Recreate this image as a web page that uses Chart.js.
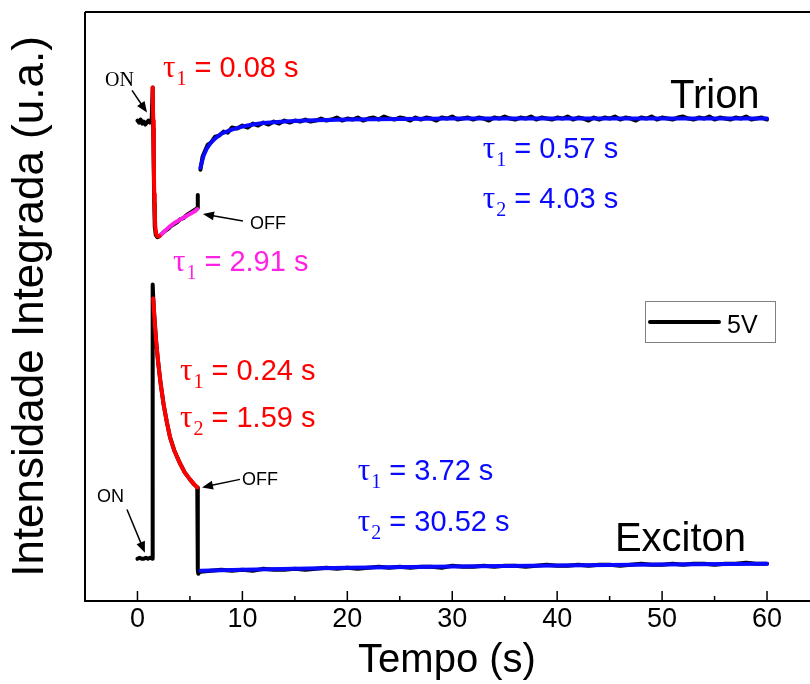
<!DOCTYPE html>
<html>
<head>
<meta charset="utf-8">
<title>Intensidade Integrada - 5V</title>
<script src="https://cdn.jsdelivr.net/npm/chart.js@4.4.1/dist/chart.umd.min.js"></script>
<style>
  html, body { margin: 0; padding: 0; background: #fff; }
  #wrap { width: 810px; height: 684px; }
</style>
</head>
<body>
<div id="wrap"><canvas id="chart" width="810" height="684"></canvas></div>
<script>
// ---- data (arbitrary units) ----
const xTicks = [0, 10, 20, 30, 40, 50, 60];

// Trion, measured (black)
const trionX = [0, 0.15, 0.3, 0.45, 0.6, 0.75, 0.9, 1.05, 1.2, 1.35, 1.45, 1.5, 1.55, 1.6, 1.65, 1.75, 1.9, 2.1, 2.3, 2.6, 2.9, 3.2, 3.5, 3.8, 4.1, 4.4, 4.7, 5.0, 5.3, 5.6, 5.7, 5.75, 5.85,
  6.0, 6.2, 6.4, 6.7, 7.0, 7.4, 7.8, 8.2, 8.6, 9.0, 9.5,
  10, 10.5, 11, 11.5, 12, 12.5, 13, 13.5, 14, 14.5, 15, 15.5, 16, 16.5, 17, 17.5, 18, 18.5, 19, 19.5,
  20, 20.5, 21, 21.5, 22, 22.5, 23, 23.5, 24, 24.5, 25, 25.5, 26, 26.5, 27, 27.5, 28, 28.5, 29, 29.5,
  30, 30.5, 31, 31.5, 32, 32.5, 33, 33.5, 34, 34.5, 35, 35.5, 36, 36.5, 37, 37.5, 38, 38.5, 39, 39.5,
  40, 40.5, 41, 41.5, 42, 42.5, 43, 43.5, 44, 44.5, 45, 45.5, 46, 46.5, 47, 47.5, 48, 48.5, 49, 49.5,
  50, 50.5, 51, 51.5, 52, 52.5, 53, 53.5, 54, 54.5, 55, 55.5, 56, 56.5, 57, 57.5, 58, 58.5, 59, 59.5, 60];
const trionY = [478, 476, 479, 475, 477, 474, 476, 478, 476, 477, 511, 470, 430, 395, 372, 364, 362, 363, 365, 368, 370, 373, 375, 377, 380, 381, 384, 386, 388, 390, 391, 404, null,
  429, 442, 447, 454, 456, 462, 463, 467, 466, 471, 470,
  473, 471, 475, 473, 476, 474, 477, 475, 478, 476, 478, 477, 479, 477, 478, 480, 478, 479, 481, 478,
  480, 479, 481, 478, 480, 481, 479, 482, 480, 479, 481, 480, 478, 481, 479, 481, 480, 478, 481, 480,
  482, 479, 480, 481, 479, 481, 480, 478, 481, 480, 482, 480, 479, 481, 480, 482, 479, 481, 480, 479,
  481, 480, 482, 479, 481, 480, 478, 481, 479, 481, 480, 482, 479, 481, 480, 478, 481, 480, 482, 479,
  481, 480, 479, 481, 482, 480, 479, 481, 480, 482, 479, 481, 480, 479, 481, 480, 482, 479, 480, 481, 479];

// Trion fits
const trionFit1X = [1.45, 1.5, 1.55, 1.6, 1.65, 1.7, 1.8, 1.9, 2.1];
const trionFit1Y = [511, 478, 440, 405, 385, 372, 365, 363, 363];
const trionFit2X = [2.2, 2.6, 3.0, 3.5, 4.0, 4.5, 5.0, 5.5, 5.7];
const trionFit2Y = [364, 368, 372, 376, 379, 382, 385, 388, 390];
const trionFit3X = [6.0, 6.3, 6.6, 7.0, 7.5, 8, 9, 10, 11, 12, 14, 16, 18, 20, 25, 30, 40, 50, 60];
const trionFit3Y = [431, 443, 450, 456, 461, 465, 469, 472, 474, 475.5, 477, 478, 478.5, 479, 479.5, 480, 480, 480, 480];

// Exciton, measured (black)
const excitonX = [0, 0.2, 0.4, 0.6, 0.8, 1.0, 1.2, 1.42, 1.45, 1.5, 1.6, 1.7, 1.8, 1.9, 2.0, 2.2, 2.5, 2.8, 3.1, 3.5, 4.0, 4.5, 5.0, 5.4, 5.7, 5.75, 5.8, 5.9,
  6, 7, 8, 9, 10, 11, 12, 13, 14, 15, 16, 17, 18, 19, 20, 21, 22, 23, 24, 25, 26, 27, 28, 29, 30,
  31, 32, 33, 34, 35, 36, 37, 38, 39, 40, 41, 42, 43, 44, 45, 46, 47, 48, 49, 50,
  51, 52, 53, 54, 55, 56, 57, 58, 59, 60];
const excitonY = [42, 43, 42, 42, 43, 42, 43, 42, 315, 302, 285, 270, 256, 245, 235, 217, 195, 178, 163, 150, 138, 128, 121, 116, 113, 31, 27, 29,
  29, 30, 31, 30, 31, 30, 32, 31, 31, 32, 31, 32, 33, 32, 33, 32, 33, 34, 33, 34, 33, 34, 34, 33, 35,
  34, 34, 35, 34, 35, 35, 34, 35, 36, 35, 35, 36, 35, 36, 36, 35, 36, 37, 36, 36,
  37, 36, 37, 37, 36, 37, 37, 38, 37, 37];

// Exciton fits
const excitonFit1X = [1.5, 1.6, 1.7, 1.8, 1.9, 2.0, 2.2, 2.5, 2.8, 3.1, 3.5, 4.0, 4.5, 5.0, 5.4, 5.7];
const excitonFit1Y = [301, 284, 269, 256, 245, 235, 217, 195, 178, 163, 150, 138, 128, 121, 116, 113];
const excitonFit2X = [6, 8, 10, 15, 20, 30, 40, 50, 60];
const excitonFit2Y = [30, 30.5, 31, 32, 33, 34.3, 35.4, 36.3, 37];

const pts = (xs, ys) => xs.map((x, i) => ({ x: x, y: ys[i] }));

const RED = '#ff0000';
const BLUE = '#0a0aff';
const MAGENTA = '#ff22e6';
const SANS = '"Liberation Sans", Arial, sans-serif';
const SERIF = '"Liberation Serif", "Times New Roman", serif';

function line(data, color, order, label) {
    return {
        label: label,
        data: data,
        borderColor: color,
        backgroundColor: color,
        borderWidth: 4,
        pointRadius: 0,
        tension: 0,
        fill: false,
        spanGaps: false,
        order: order,
        borderJoinStyle: 'round',
        borderCapStyle: 'round'
    };
}

// text and arrows placed in data coordinates
const notes = {
    taus: [
        { x: 2.43, y: 521, sub: '1', text: ' = 0.08 s', color: RED },
        { x: 32.9, y: 441, sub: '1', text: ' = 0.57 s', color: BLUE },
        { x: 32.9, y: 391, sub: '2', text: ' = 4.03 s', color: BLUE },
        { x: 3.38, y: 328, sub: '1', text: ' = 2.91 s', color: MAGENTA },
        { x: 4.05, y: 220, sub: '1', text: ' = 0.24 s', color: RED },
        { x: 4.05, y: 173, sub: '2', text: ' = 1.59 s', color: RED },
        { x: 21.0, y: 120, sub: '1', text: ' = 3.72 s', color: BLUE },
        { x: 21.0, y: 70, sub: '2', text: ' = 30.52 s', color: BLUE }
    ],
    names: [
        { x: 50.75, y: 490, text: 'Trion' },
        { x: 45.5, y: 50, text: 'Exciton' }
    ],
    marks: [
        { x: -3.1, y: 512, text: 'ON', serif: true, from: [-0.52, 508], to: [0.91, 486] },
        { x: 10.72, y: 370, text: 'OFF', from: [10.05, 378], to: [6.24, 385] },
        { x: -3.86, y: 98, text: 'ON', from: [-1.0, 91], to: [0.71, 48] },
        { x: 9.96, y: 115, text: 'OFF', from: [9.77, 121], to: [6.15, 113] }
    ]
};

function arrow(ctx, x1, y1, x2, y2) {
    const a = Math.atan2(y2 - y1, x2 - x1);
    const len = 11, half = 4.5;
    ctx.beginPath();
    ctx.moveTo(x1, y1);
    ctx.lineTo(x2 - Math.cos(a) * len * 0.8, y2 - Math.sin(a) * len * 0.8);
    ctx.stroke();
    ctx.beginPath();
    ctx.moveTo(x2, y2);
    ctx.lineTo(x2 - Math.cos(a) * len - Math.sin(a) * half, y2 - Math.sin(a) * len + Math.cos(a) * half);
    ctx.lineTo(x2 - Math.cos(a) * len + Math.sin(a) * half, y2 - Math.sin(a) * len - Math.cos(a) * half);
    ctx.closePath();
    ctx.fill();
}

const decorations = {
    id: 'decorations',
    afterDraw(chart) {
        const ctx = chart.ctx;
        const area = chart.chartArea;
        const xs = chart.scales.x, ys = chart.scales.y;
        ctx.save();

        // frame
        ctx.strokeStyle = '#000';
        ctx.lineWidth = 2;
        ctx.beginPath();
        ctx.moveTo(area.left, area.top);
        ctx.lineTo(area.right + 2, area.top);
        ctx.moveTo(area.left, area.top);
        ctx.lineTo(area.left, area.bottom);
        ctx.lineTo(area.right + 2, area.bottom);
        ctx.stroke();

        // inward ticks, minor ones halfway between majors
        ctx.lineWidth = 1.5;
        xTicks.forEach((v, i) => {
            const px = xs.getPixelForValue(v);
            ctx.beginPath();
            ctx.moveTo(px, area.bottom);
            ctx.lineTo(px, area.bottom - 10);
            ctx.stroke();
            if (i < xTicks.length - 1) {
                const mx = xs.getPixelForValue((v + xTicks[i + 1]) / 2);
                ctx.beginPath();
                ctx.moveTo(mx, area.bottom);
                ctx.lineTo(mx, area.bottom - 5);
                ctx.stroke();
            }
        });

        // fit time constants
        ctx.textAlign = 'left';
        ctx.textBaseline = 'alphabetic';
        notes.taus.forEach(n => {
            let px = xs.getPixelForValue(n.x);
            const py = ys.getPixelForValue(n.y);
            ctx.fillStyle = n.color;
            ctx.font = '31px ' + SERIF;
            ctx.fillText('\u03c4', px, py);
            px += ctx.measureText('\u03c4').width + 1;
            ctx.font = '20px ' + SERIF;
            ctx.fillText(n.sub, px, py + 8);
            px += ctx.measureText(n.sub).width;
            ctx.font = '29px ' + SANS;
            ctx.fillText(n.text, px, py);
        });

        // curve names
        ctx.fillStyle = '#000';
        ctx.font = '40px ' + SANS;
        notes.names.forEach(n => {
            ctx.fillText(n.text, xs.getPixelForValue(n.x), ys.getPixelForValue(n.y));
        });

        // ON / OFF marks
        ctx.lineWidth = 1.5;
        notes.marks.forEach(m => {
            ctx.font = (m.serif ? '20px ' + SERIF : '18px ' + SANS);
            ctx.fillText(m.text, xs.getPixelForValue(m.x), ys.getPixelForValue(m.y));
            arrow(ctx, xs.getPixelForValue(m.from[0]), ys.getPixelForValue(m.from[1]),
                xs.getPixelForValue(m.to[0]), ys.getPixelForValue(m.to[1]));
        });

        // legend box
        const ds = chart.data.datasets.find(d => d.label);
        ctx.strokeStyle = '#808080';
        ctx.lineWidth = 1;
        ctx.strokeRect(645.5, 301.5, 130, 41);
        ctx.strokeStyle = ds.borderColor;
        ctx.lineWidth = 4;
        ctx.lineCap = 'round';
        ctx.beginPath();
        ctx.moveTo(650, 322);
        ctx.lineTo(719, 322);
        ctx.stroke();
        ctx.fillStyle = '#000';
        ctx.font = '25px ' + SANS;
        ctx.fillText(ds.label, 727, 333);

        ctx.restore();
    }
};

Chart.defaults.font.family = SANS;
Chart.defaults.color = '#000';

new Chart(document.getElementById('chart'), {
    type: 'line',
    data: {
        datasets: [
            line(pts(trionFit1X, trionFit1Y), RED, 0),
            line(pts(trionFit2X, trionFit2Y), MAGENTA, 0),
            line(pts(trionFit3X, trionFit3Y), BLUE, 0),
            line(pts(excitonFit1X, excitonFit1Y), RED, 0),
            line(pts(excitonFit2X, excitonFit2Y), BLUE, 0),
            line(pts(trionX, trionY), '#000', 1, '5V'),
            line(pts(excitonX, excitonY), '#000', 1)
        ]
    },
    options: {
        responsive: false,
        animation: false,
        events: [],
        layout: { padding: { left: 9, top: 12, right: 1, bottom: 0 } },
        plugins: {
            legend: { display: false },
            tooltip: { enabled: false }
        },
        scales: {
            x: {
                type: 'linear',
                min: -5,
                max: 64,
                grid: { display: false, drawTicks: false },
                border: { display: false },
                afterBuildTicks: s => { s.ticks = xTicks.map(v => ({ value: v })); },
                ticks: { font: { size: 27, lineHeight: 1.0 }, color: '#000', padding: 5, maxRotation: 0 },
                title: {
                    display: true,
                    text: 'Tempo (s)',
                    font: { size: 40, lineHeight: 1.15 },
                    color: '#000',
                    padding: { top: 0, bottom: 0 }
                }
            },
            y: {
                type: 'linear',
                min: 0,
                max: 586,
                grid: { display: false, drawTicks: false },
                border: { display: false },
                ticks: { display: false },
                title: {
                    display: true,
                    text: 'Intensidade Integrada (u.a.)',
                    font: { size: 44, lineHeight: 1 },
                    color: '#000',
                    padding: { top: 0, bottom: 32 }
                }
            }
        }
    },
    plugins: [decorations]
});
</script>
</body>
</html>
